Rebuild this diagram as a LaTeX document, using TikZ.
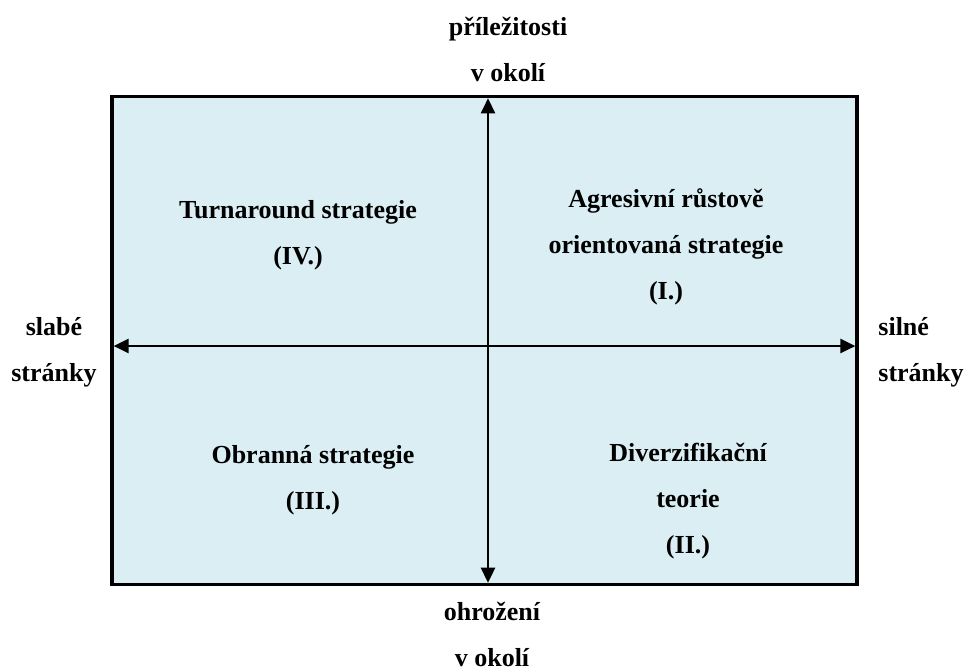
\documentclass[tikz,border=0pt]{standalone}
\usepackage{fontspec}
\setmainfont{Liberation Serif}
\usetikzlibrary{arrows.meta, positioning}

\begin{document}
\begin{tikzpicture}[
    x=0.5pt, y=-0.5pt,
    font=\fontsize{13}{23}\selectfont\bfseries,
    lbl/.style={
    	align=center, inner sep=0pt
    }, pil/.style={
    	{Triangle[length=7.5pt,width=7pt]}-{Triangle[length=7.5pt,width=7pt]},
    	line width=1.3pt, shorten <=0.8pt, shorten >=0.8pt
    }]
    \definecolor{my-blue}{HTML}{DAEEF3}

    \useasboundingbox (0,0) rectangle (964,671);

    %%% matrix frame
    \node[draw, line width=1.6pt, fill=my-blue, inner sep=0pt, outer sep=0pt,
    	minimum width=372.5pt, minimum height=243.8pt, anchor=north west] (frame) at (112,96.7) {};

    \coordinate (opp) at (488,96.7);
    \coordinate (thr) at (488,584.3);
    \coordinate (weak) at (112,346);
    \coordinate (strong) at (857,346);

    %%% axis labels
    \node[lbl] (opp-lbl) at (508,49) {příležitosti\\v okolí};
    \node[lbl] (thr-lbl) at (492,634) {ohrožení\\v okolí};
    \node[lbl] (weak-lbl) at (54,352) {slabé\\stránky};
    \node[lbl, align=left, anchor=west] (strong-lbl) at (878,352) {silné\\stránky};

    %%% quadrants
    \node[lbl] (q4) at (298,235) {Turnaround strategie\\(IV.)};
    \node[lbl] (q1) at (666,247) {Agresivní růstově\\orientovaná strategie\\(I.)};
    \node[lbl] (q3) at (313,480) {Obranná strategie\\(III.)};
    \node[lbl] (q2) at (688,501) {Diverzifikační\\teorie\\(II.)};

    %%% AXES
    \draw[pil] (thr) -- (opp);
    \draw[pil] (weak) -- (strong);

\end{tikzpicture}
\end{document}
